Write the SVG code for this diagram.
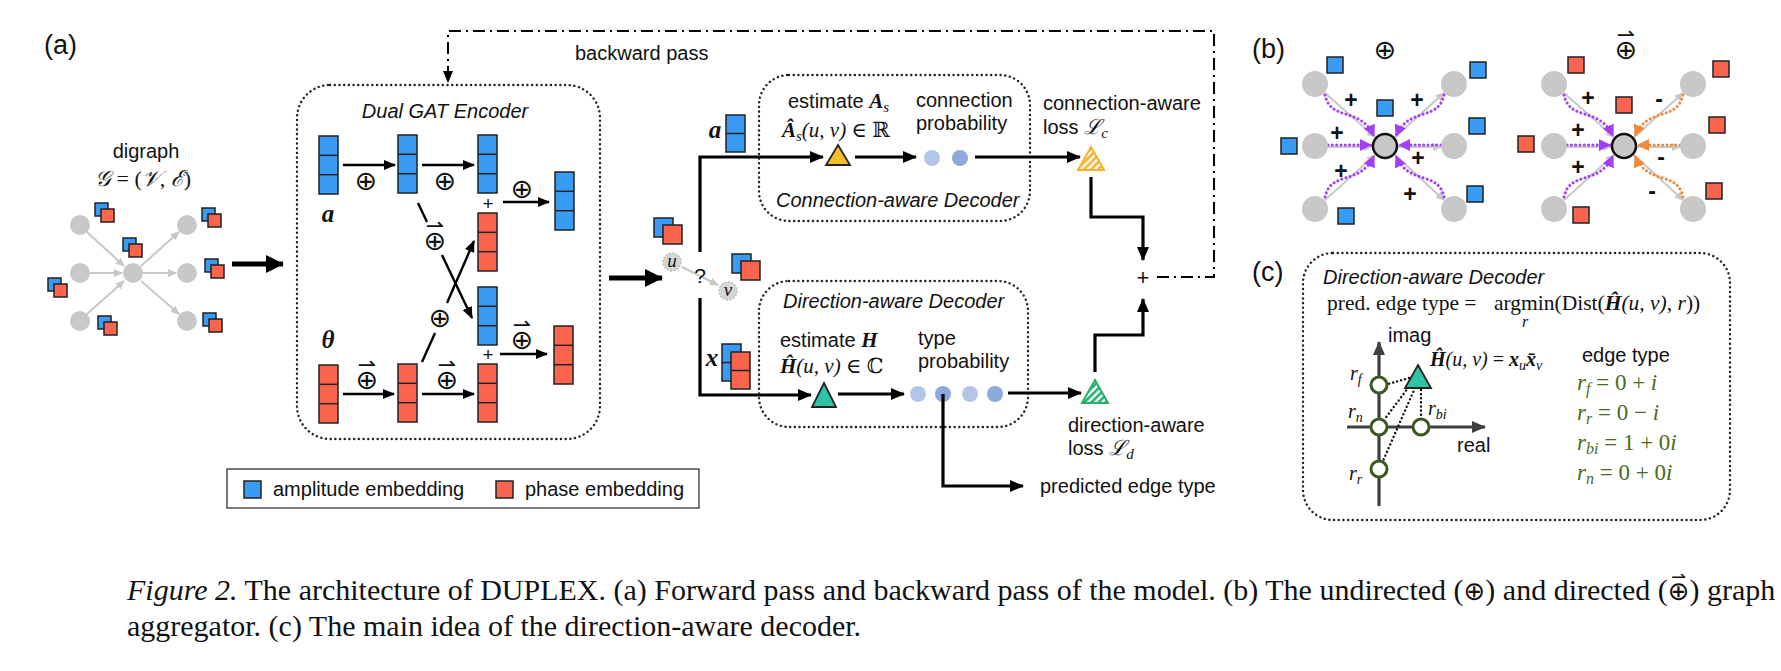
<svg xmlns="http://www.w3.org/2000/svg" width="1781" height="671" viewBox="0 0 1781 671">
<style>
.sans{font-family:"Liberation Sans",Arial,sans-serif;fill:#111}
.ital{font-family:"Liberation Sans",Arial,sans-serif;font-style:italic;fill:#111}
.math{font-family:"Liberation Serif","DejaVu Serif",serif;font-style:italic;fill:#111}
.rom{font-family:"Liberation Serif","DejaVu Serif",serif;fill:#111}
.bi{font-weight:bold;font-style:italic}
.sym{font-family:"DejaVu Sans",sans-serif;fill:#111;font-weight:normal;font-style:normal}
.op{font-family:"DejaVu Sans",sans-serif;fill:#111;font-size:27px;text-anchor:middle}
.dop{font-family:"DejaVu Sans",sans-serif;fill:#111;font-size:27px;text-anchor:start}
.pm{font-family:"Liberation Sans",Arial,sans-serif;fill:#111;font-size:23px;font-weight:bold;text-anchor:middle}
.dotbox{fill:none;stroke:#222;stroke-width:2.4;stroke-dasharray:0.1 4.6;stroke-linecap:round}
.ln{fill:none;stroke:#000;stroke-width:3.2}
.thin{fill:none;stroke:#000;stroke-width:2.4}
.big{fill:none;stroke:#000;stroke-width:5}
.gedge{fill:none;stroke:#c8c8c8;stroke-width:2}
.gnode{fill:#c8c8c8}
.blue{fill:#3a9bf5;stroke:#222;stroke-width:1.5}
.red{fill:#fb654d;stroke:#222;stroke-width:1.5}
.cell{stroke:#222;stroke-width:1.5}
.pur{fill:none;stroke:#a23ff7;stroke-width:3;stroke-dasharray:0.1 4.2;stroke-linecap:round}
.org{fill:none;stroke:#f08a3a;stroke-width:3;stroke-dasharray:0.1 4.2;stroke-linecap:round}
.dd{fill:none;stroke:#000;stroke-width:2;stroke-dasharray:12 5 2 5}
.gc{fill:#fff;stroke:#3b5a1f;stroke-width:3}
.ax{fill:none;stroke:#404040;stroke-width:3.2}
.eq{font-family:"Liberation Serif","DejaVu Serif",serif;fill:#4a6a22;font-size:23px}
</style>
<defs>
<marker id="ah" markerUnits="userSpaceOnUse" markerWidth="14" markerHeight="12" refX="13" refY="6" orient="auto"><path d="M0,0 L14,6 L0,12 z" fill="#000"/></marker>
<marker id="ahs" markerUnits="userSpaceOnUse" markerWidth="12" markerHeight="10" refX="11" refY="5" orient="auto"><path d="M0,0 L12,5 L0,10 z" fill="#000"/></marker>
<marker id="ahb" markerUnits="userSpaceOnUse" markerWidth="18" markerHeight="18" refX="17" refY="9" orient="auto"><path d="M0,0 L18,9 L0,18 z" fill="#000"/></marker>
<marker id="ahg" markerUnits="userSpaceOnUse" markerWidth="9" markerHeight="8" refX="8" refY="4" orient="auto"><path d="M0,0 L9,4 L0,8 z" fill="#c8c8c8"/></marker>
<marker id="ahp" markerUnits="userSpaceOnUse" markerWidth="12" markerHeight="12" refX="11" refY="6" orient="auto"><path d="M0,0 L12,6 L0,12 z" fill="#a23ff7"/></marker>
<marker id="aho" markerUnits="userSpaceOnUse" markerWidth="12" markerHeight="12" refX="11" refY="6" orient="auto"><path d="M0,0 L12,6 L0,12 z" fill="#f08a3a"/></marker>
<marker id="ahd" markerUnits="userSpaceOnUse" markerWidth="14" markerHeight="12" refX="13" refY="6" orient="auto"><path d="M0,0 L14,6 L0,12 z" fill="#404040"/></marker>
<pattern id="hY" patternUnits="userSpaceOnUse" width="5" height="5" patternTransform="rotate(45)"><rect width="5" height="5" fill="#fff"/><rect width="2.6" height="5" fill="#f7b12b"/></pattern>
<pattern id="hG" patternUnits="userSpaceOnUse" width="5" height="5" patternTransform="rotate(45)"><rect width="5" height="5" fill="#fff"/><rect width="2.6" height="5" fill="#22b06a"/></pattern>
<g id="cB"><rect class="blue" width="19" height="58"/><line class="cell" x1="0" y1="19.3" x2="19" y2="19.3"/><line class="cell" x1="0" y1="38.7" x2="19" y2="38.7"/></g>
<g id="cR"><rect class="red" width="19" height="58"/><line class="cell" x1="0" y1="19.3" x2="19" y2="19.3"/><line class="cell" x1="0" y1="38.7" x2="19" y2="38.7"/></g>
<g id="c2B"><rect class="blue" width="19" height="37"/><line class="cell" x1="0" y1="18.5" x2="19" y2="18.5"/></g>
<g id="c2R"><rect class="red" width="19" height="37"/><line class="cell" x1="0" y1="18.5" x2="19" y2="18.5"/></g>
<g id="pairS"><rect class="blue" x="0" y="0" width="13" height="13"/><rect class="red" x="6" y="6" width="13" height="13"/></g>
<g id="pairL"><rect class="blue" x="0" y="0" width="19" height="19"/><rect class="red" x="9" y="7" width="19" height="19"/></g>
</defs>
<rect width="1781" height="671" fill="#fff"/>

<!-- panel labels -->
<text class="sans" x="44" y="54" font-size="27">(a)</text>
<text class="sans" x="1252" y="58" font-size="27">(b)</text>
<text class="sans" x="1252" y="281" font-size="27">(c)</text>

<!-- input digraph -->
<g id="digraph">
<text class="sans" x="146" y="158" font-size="20" text-anchor="middle">digraph</text>
<text class="math" x="143" y="186" font-size="22" text-anchor="middle">𝒢 <tspan font-style="normal">= (</tspan>𝒱<tspan font-style="normal">,</tspan> ℰ<tspan font-style="normal">)</tspan></text>
<line class="gedge" x1="87" y1="232" x2="124" y2="266" marker-end="url(#ahg)"/>
<line class="gedge" x1="90" y1="273" x2="122" y2="273" marker-end="url(#ahg)"/>
<line class="gedge" x1="87" y1="314" x2="124" y2="281" marker-end="url(#ahg)"/>
<line class="gedge" x1="141" y1="266" x2="179" y2="232" marker-end="url(#ahg)"/>
<line class="gedge" x1="143" y1="273" x2="176" y2="273" marker-end="url(#ahg)"/>
<line class="gedge" x1="141" y1="281" x2="179" y2="314" marker-end="url(#ahg)"/>
<circle class="gnode" cx="80" cy="225" r="10"/><circle class="gnode" cx="80" cy="273" r="10"/><circle class="gnode" cx="80" cy="321" r="10"/>
<circle class="gnode" cx="133" cy="273" r="10"/>
<circle class="gnode" cx="187" cy="225" r="10"/><circle class="gnode" cx="187" cy="273" r="10"/><circle class="gnode" cx="187" cy="321" r="10"/>
<use href="#pairS" x="95" y="203"/><use href="#pairS" x="123" y="238"/><use href="#pairS" x="202" y="208"/>
<use href="#pairS" x="205" y="259"/><use href="#pairS" x="48" y="278"/><use href="#pairS" x="203" y="313"/><use href="#pairS" x="98" y="316"/>
</g>

<!-- encoder -->
<g id="encoder">
<rect class="dotbox" x="297" y="85" width="303" height="354" rx="33"/>
<text class="ital" x="445" y="118" font-size="20" text-anchor="middle">Dual GAT Encoder</text>
<text class="math bi" x="328" y="222" font-size="25" text-anchor="middle">a</text>
<text class="math bi" x="328" y="348" font-size="25" text-anchor="middle">θ</text>
<use href="#cB" x="319" y="136"/><use href="#cB" x="398" y="135"/><use href="#cB" x="478" y="135"/>
<use href="#cR" x="478" y="213"/><use href="#cB" x="478" y="287"/>
<use href="#cR" x="319" y="365"/><use href="#cR" x="398" y="364"/><use href="#cR" x="478" y="364"/>
<use href="#cB" x="555" y="172"/><use href="#cR" x="554" y="326"/>
<text class="sans" x="488" y="210" font-size="19" text-anchor="middle">+</text>
<text class="sans" x="488" y="361" font-size="19" text-anchor="middle">+</text>
<text class="op" x="366" y="189.5">⊕</text>
<text class="op" x="445" y="189.5">⊕</text>
<text class="op" x="522" y="197.5">⊕</text>
<text class="op" x="440" y="326.5">⊕</text>
<text class="dop" x="423.7" y="249.5">⊕<tspan font-size="22" dx="-20.5" dy="-16.5">⇀</tspan></text>
<text class="dop" x="355.7" y="388.5">⊕<tspan font-size="22" dx="-20.5" dy="-16.5">⇀</tspan></text>
<text class="dop" x="435.7" y="388.5">⊕<tspan font-size="22" dx="-20.5" dy="-16.5">⇀</tspan></text>
<text class="dop" x="510.7" y="348.5">⊕<tspan font-size="22" dx="-20.5" dy="-16.5">⇀</tspan></text>
</g>

<!-- decoder input -->
<g id="pair-uv">
<use href="#pairL" x="654" y="218"/>
<use href="#pairL" x="732" y="254"/>
<line x1="682" y1="267" x2="718" y2="285" stroke="#c8c8c8" stroke-width="2.5" marker-end="url(#ahg)"/>
<circle cx="672" cy="262" r="9" fill="#d6d6d6" stroke="#bdbdbd" stroke-width="1.5" stroke-dasharray="2 1.5"/>
<circle cx="728" cy="291" r="9" fill="#d6d6d6" stroke="#bdbdbd" stroke-width="1.5" stroke-dasharray="2 1.5"/>
<text class="math" x="672" y="267" font-size="19" text-anchor="middle">u</text>
<text class="math" x="728" y="296" font-size="19" text-anchor="middle">v</text>
<text class="sans" x="700" y="283" font-size="21" text-anchor="middle">?</text>
</g>

<!-- connection-aware decoder -->
<g id="conn-decoder">
<rect class="dotbox" x="759" y="75" width="271" height="146" rx="30"/>
<text class="sans" x="788" y="108" font-size="20">estimate <tspan class="math bi" font-size="21">A</tspan><tspan class="math" font-size="15" dy="4">s</tspan></text>
<text class="math" x="782" y="137" font-size="21"><tspan class="bi">Â</tspan><tspan font-size="15" dy="4">s</tspan><tspan dy="-4">(u, v) </tspan><tspan font-style="normal">∈ ℝ</tspan></text>
<path d="M838,145 L850,165 L826,165 Z" fill="#f5bd2a" stroke="#222" stroke-width="1.8"/>
<text class="sans" x="916" y="107" font-size="20">connection</text>
<text class="sans" x="916" y="130" font-size="20">probability</text>
<circle cx="932" cy="158" r="8" fill="#b4c6e7"/><circle cx="960" cy="158" r="8" fill="#8ea9db"/>
<text class="ital" x="776" y="207" font-size="20">Connection-aware Decoder</text>
</g>

<!-- direction-aware decoder -->
<g id="dir-decoder">
<rect class="dotbox" x="759" y="281" width="269" height="146" rx="30"/>
<text class="ital" x="783" y="308" font-size="20">Direction-aware Decoder</text>
<text class="sans" x="780" y="347" font-size="20">estimate <tspan class="math bi" font-size="21">H</tspan></text>
<text class="math" x="780" y="373" font-size="21"><tspan class="bi">Ĥ</tspan>(u, v) <tspan font-style="normal">∈ ℂ</tspan></text>
<path d="M824,383 L836,407 L812,407 Z" fill="#2ec4a5" stroke="#222" stroke-width="1.8"/>
<text class="sans" x="918" y="345" font-size="20">type</text>
<text class="sans" x="918" y="368" font-size="20">probability</text>
<circle cx="918" cy="394" r="8" fill="#b4c6e7"/><circle cx="943" cy="394" r="8" fill="#8ea9db"/>
<circle cx="970" cy="394" r="8" fill="#b4c6e7"/><circle cx="995" cy="394" r="8" fill="#8ea9db"/>
</g>

<!-- decoder branch inputs -->
<g id="branch-a">
<text class="math bi" x="715" y="138" font-size="25" text-anchor="middle">a</text>
<use href="#c2B" x="726" y="115"/>
</g>
<g id="branch-x">
<text class="math bi" x="712" y="366" font-size="25" text-anchor="middle">x</text>
<use href="#c2B" x="722" y="344"/><use href="#c2R" x="731" y="352"/>
</g>

<!-- losses -->
<g id="loss-c">
<path d="M1091,147 L1104,170 L1078,170 Z" fill="url(#hY)" stroke="#f7b12b" stroke-width="2"/>
<text class="sans" x="1043" y="110" font-size="20">connection-aware</text>
<text class="sans" x="1043" y="134" font-size="20">loss <tspan class="math" font-size="21">ℒ</tspan><tspan class="math" font-size="15" dy="4">c</tspan></text>
</g>
<g id="loss-d">
<path d="M1095,380 L1108,403 L1082,403 Z" fill="url(#hG)" stroke="#22b06a" stroke-width="2"/>
<text class="sans" x="1068" y="432" font-size="20">direction-aware</text>
<text class="sans" x="1068" y="455" font-size="20">loss <tspan class="math" font-size="21">ℒ</tspan><tspan class="math" font-size="15" dy="4">d</tspan></text>
</g>
<g id="sum">
<text class="sans" x="1143" y="285" font-size="22" text-anchor="middle">+</text>
</g>
<g id="out-label">
<text class="sans" x="1040" y="493" font-size="20">predicted edge type</text>
</g>
<g id="backward-label">
<text class="sans" x="575" y="60" font-size="20">backward pass</text>
</g>

<!-- legend -->
<g id="legend">
<rect x="227" y="469" width="472" height="39" fill="none" stroke="#222" stroke-width="1.2"/>
<rect class="blue" x="244" y="481" width="17" height="17"/>
<text class="sans" x="273" y="496" font-size="20">amplitude embedding</text>
<rect class="red" x="496" y="481" width="17" height="17"/>
<text class="sans" x="525" y="496" font-size="20">phase embedding</text>
</g>

<!-- connectors -->
<g id="connectors">
<line class="big" x1="232" y1="264" x2="283" y2="264" marker-end="url(#ahb)"/>
<line class="big" x1="609" y1="278" x2="662" y2="278" marker-end="url(#ahb)"/>
<line class="thin" x1="343" y1="165" x2="395" y2="165" marker-end="url(#ahs)"/>
<line class="thin" x1="422" y1="165" x2="474" y2="165" marker-end="url(#ahs)"/>
<line class="thin" x1="503" y1="202" x2="549" y2="202" marker-end="url(#ahs)"/>
<line class="thin" x1="343" y1="394" x2="394" y2="394" marker-end="url(#ahs)"/>
<line class="thin" x1="422" y1="394" x2="474" y2="394" marker-end="url(#ahs)"/>
<line class="thin" x1="500" y1="354" x2="547" y2="354" marker-end="url(#ahs)"/>
<line class="thin" x1="418" y1="203" x2="427" y2="222"/>
<line class="thin" x1="442" y1="255" x2="472" y2="318" marker-end="url(#ahs)"/>
<line class="thin" x1="422" y1="362" x2="435" y2="333"/>
<line class="thin" x1="447" y1="303" x2="474" y2="241" marker-end="url(#ahs)"/>
<path class="ln" d="M700,252 V157 H823" marker-end="url(#ah)"/>
<path class="ln" d="M700,298 V395 H811" marker-end="url(#ah)"/>
<line class="ln" x1="855" y1="157" x2="916" y2="157" marker-end="url(#ah)"/>
<line class="ln" x1="975" y1="157" x2="1080" y2="157" marker-end="url(#ah)"/>
<line class="ln" x1="838" y1="394" x2="904" y2="394" marker-end="url(#ah)"/>
<line class="ln" x1="1008" y1="393" x2="1081" y2="393" marker-end="url(#ah)"/>
<path class="ln" d="M943,394 V486 H1023" marker-end="url(#ah)"/>
<path class="ln" d="M1091,177 V217 H1143 V260" marker-end="url(#ah)"/>
<path class="ln" d="M1095,372 V335 H1143 V299" marker-end="url(#ah)"/>
<path class="dd" d="M1157,277 H1214 V31 H448 V82" marker-end="url(#ahs)"/>
</g>

<!-- (b) undirected aggregator -->
<g id="agg-undirected">
<text class="op" x="1385" y="58.5">⊕</text>
<line class="gedge" x1="1325" y1="93" x2="1375" y2="137" marker-end="url(#ahg)"/>
<line class="gedge" x1="1328" y1="147" x2="1372" y2="147" marker-end="url(#ahg)"/>
<line class="gedge" x1="1325" y1="200" x2="1375" y2="155" marker-end="url(#ahg)"/>
<line class="gedge" x1="1394" y1="138" x2="1444" y2="93" marker-end="url(#ahg)"/>
<line class="gedge" x1="1397" y1="147" x2="1441" y2="147" marker-end="url(#ahg)"/>
<line class="gedge" x1="1394" y1="154" x2="1444" y2="200" marker-end="url(#ahg)"/>
<path class="pur" d="M1325,95 C1331,122 1360,106 1374,136" marker-end="url(#ahp)"/>
<path class="pur" d="M1328,145 L1371,145" marker-end="url(#ahp)"/>
<path class="pur" d="M1325,197 C1331,170 1360,186 1374,156" marker-end="url(#ahp)"/>
<path class="pur" d="M1444,95 C1438,122 1409,106 1396,136" marker-end="url(#ahp)"/>
<path class="pur" d="M1441,145 L1399,145" marker-end="url(#ahp)"/>
<path class="pur" d="M1444,197 C1438,170 1409,186 1396,156" marker-end="url(#ahp)"/>
<circle class="gnode" cx="1315" cy="84" r="13"/><circle class="gnode" cx="1315" cy="146" r="13"/><circle class="gnode" cx="1315" cy="209" r="13"/>
<circle class="gnode" cx="1454" cy="84" r="13"/><circle class="gnode" cx="1454" cy="146" r="13"/><circle class="gnode" cx="1454" cy="209" r="13"/>
<circle cx="1385" cy="146" r="12" fill="#c8c8c8" stroke="#111" stroke-width="2.5"/>
<rect class="blue" x="1327" y="57" width="16" height="16"/><rect class="blue" x="1377" y="100" width="16" height="16"/>
<rect class="blue" x="1281" y="138" width="16" height="16"/><rect class="blue" x="1338" y="208" width="16" height="16"/>
<rect class="blue" x="1470" y="62" width="16" height="16"/><rect class="blue" x="1469" y="118" width="16" height="16"/>
<rect class="blue" x="1467" y="186" width="16" height="16"/>
<text class="pm" x="1351" y="108">+</text><text class="pm" x="1417" y="108">+</text><text class="pm" x="1337" y="141">+</text>
<text class="pm" x="1418" y="166">+</text><text class="pm" x="1341" y="179">+</text><text class="pm" x="1410" y="202">+</text>
</g>

<!-- (b) directed aggregator -->
<g id="agg-directed">
<text class="dop" x="1614.7" y="58.5">⊕<tspan font-size="22" dx="-20.5" dy="-16.5">⇀</tspan></text>
<line class="gedge" x1="1564" y1="93" x2="1614" y2="137" marker-end="url(#ahg)"/>
<line class="gedge" x1="1567" y1="147" x2="1611" y2="147" marker-end="url(#ahg)"/>
<line class="gedge" x1="1564" y1="200" x2="1614" y2="155" marker-end="url(#ahg)"/>
<line class="gedge" x1="1633" y1="138" x2="1683" y2="93" marker-end="url(#ahg)"/>
<line class="gedge" x1="1636" y1="147" x2="1680" y2="147" marker-end="url(#ahg)"/>
<line class="gedge" x1="1633" y1="154" x2="1683" y2="200" marker-end="url(#ahg)"/>
<path class="pur" d="M1564,95 C1570,122 1599,106 1613,136" marker-end="url(#ahp)"/>
<path class="pur" d="M1567,145 L1610,145" marker-end="url(#ahp)"/>
<path class="pur" d="M1564,197 C1570,170 1599,186 1613,156" marker-end="url(#ahp)"/>
<path class="org" d="M1683,95 C1677,122 1648,106 1635,136" marker-end="url(#aho)"/>
<path class="org" d="M1680,145 L1638,145" marker-end="url(#aho)"/>
<path class="org" d="M1683,197 C1677,170 1648,186 1635,156" marker-end="url(#aho)"/>
<circle class="gnode" cx="1554" cy="84" r="13"/><circle class="gnode" cx="1554" cy="146" r="13"/><circle class="gnode" cx="1554" cy="209" r="13"/>
<circle class="gnode" cx="1693" cy="84" r="13"/><circle class="gnode" cx="1693" cy="146" r="13"/><circle class="gnode" cx="1693" cy="209" r="13"/>
<circle cx="1624" cy="146" r="12" fill="#c8c8c8" stroke="#111" stroke-width="2.5"/>
<rect class="red" x="1568" y="57" width="16" height="16"/><rect class="red" x="1616" y="97" width="16" height="16"/>
<rect class="red" x="1518" y="136" width="16" height="16"/><rect class="red" x="1573" y="207" width="16" height="16"/>
<rect class="red" x="1713" y="61" width="16" height="16"/><rect class="red" x="1709" y="117" width="16" height="16"/>
<rect class="red" x="1706" y="183" width="16" height="16"/>
<text class="pm" x="1588" y="106">+</text><text class="pm" x="1578" y="138">+</text><text class="pm" x="1578" y="175">+</text>
<text class="pm" x="1659" y="107">-</text><text class="pm" x="1661" y="165">-</text><text class="pm" x="1652" y="199">-</text>
</g>

<!-- (c) direction-aware decoder idea -->
<g id="panel-c">
<rect class="dotbox" x="1303" y="253" width="427" height="267" rx="30"/>
<text class="ital" x="1323" y="284" font-size="20">Direction-aware Decoder</text>
<text class="rom" x="1327" y="310" font-size="21.5">pred. edge type = <tspan x="1494">argmin(Dist(</tspan><tspan class="bi">Ĥ</tspan><tspan font-style="italic">(u, v)</tspan>, <tspan font-style="italic">r</tspan>))</text>
<text class="math" x="1525" y="327" font-size="16" text-anchor="middle">r</text>
<text class="sans" x="1388" y="342" font-size="20">imag</text>
<text class="sans" x="1457" y="452" font-size="20">real</text>
<path class="ax" d="M1379,506 V342" marker-end="url(#ahd)"/>
<path class="ax" d="M1347,427 H1485" marker-end="url(#ahd)"/>
<g fill="none" stroke="#111" stroke-width="2.4" stroke-dasharray="0.1 4" stroke-linecap="round">
<line x1="1409" y1="378" x2="1388" y2="384"/>
<line x1="1411" y1="384" x2="1384" y2="420"/>
<line x1="1415" y1="388" x2="1383" y2="461"/>
<line x1="1421" y1="390" x2="1421" y2="418"/>
</g>
<circle class="gc" cx="1379" cy="385" r="8"/>
<circle class="gc" cx="1379" cy="427" r="8"/>
<circle class="gc" cx="1421" cy="427" r="8"/>
<circle class="gc" cx="1379" cy="469" r="8"/>
<path d="M1418,365 L1431,388 L1405,388 Z" fill="#2ec4a5" stroke="#222" stroke-width="1.8"/>
<text class="math" x="1350" y="380" font-size="20">r<tspan font-size="14" dy="4">f</tspan></text>
<text class="math" x="1348" y="418" font-size="20">r<tspan font-size="14" dy="4">n</tspan></text>
<text class="math" x="1428" y="415" font-size="20">r<tspan font-size="14" dy="4">bi</tspan></text>
<text class="math" x="1349" y="480" font-size="20">r<tspan font-size="14" dy="4">r</tspan></text>
<text class="math" x="1430" y="366" font-size="20"><tspan class="bi">Ĥ</tspan>(u, v) <tspan font-style="normal">= </tspan><tspan class="bi">x</tspan><tspan font-size="14" dy="4">u</tspan><tspan class="bi" dy="-4">x̄</tspan><tspan font-size="14" dy="4">v</tspan></text>
<text class="sans" x="1582" y="362" font-size="20">edge type</text>
<text class="eq" x="1577" y="390"><tspan font-style="italic">r</tspan><tspan font-style="italic" font-size="16" dy="4">f</tspan><tspan dy="-4"> = 0 + </tspan><tspan font-style="italic">i</tspan></text>
<text class="eq" x="1577" y="420"><tspan font-style="italic">r</tspan><tspan font-style="italic" font-size="16" dy="4">r</tspan><tspan dy="-4"> = 0 − </tspan><tspan font-style="italic">i</tspan></text>
<text class="eq" x="1577" y="450"><tspan font-style="italic">r</tspan><tspan font-style="italic" font-size="16" dy="4">bi</tspan><tspan dy="-4"> = 1 + 0</tspan><tspan font-style="italic">i</tspan></text>
<text class="eq" x="1577" y="480"><tspan font-style="italic">r</tspan><tspan font-style="italic" font-size="16" dy="4">n</tspan><tspan dy="-4"> = 0 + 0</tspan><tspan font-style="italic">i</tspan></text>
</g>

<!-- caption -->
<g id="caption">
<text class="rom" x="127" y="600" font-size="30"><tspan font-style="italic">Figure 2.</tspan> The architecture of DUPLEX. (a) Forward pass and backward pass of the model. (b) The undirected (<tspan class="sym" font-size="26">⊕</tspan>) and directed (<tspan class="sym" font-size="26">⊕</tspan><tspan class="sym" font-size="18" dx="-18.45" dy="-17">⇀</tspan><tspan dx="3.35" dy="17">)</tspan> graph</text>
<text class="rom" x="127" y="636" font-size="30">aggregator. (c) The main idea of the direction-aware decoder.</text>
</g>
</svg>
